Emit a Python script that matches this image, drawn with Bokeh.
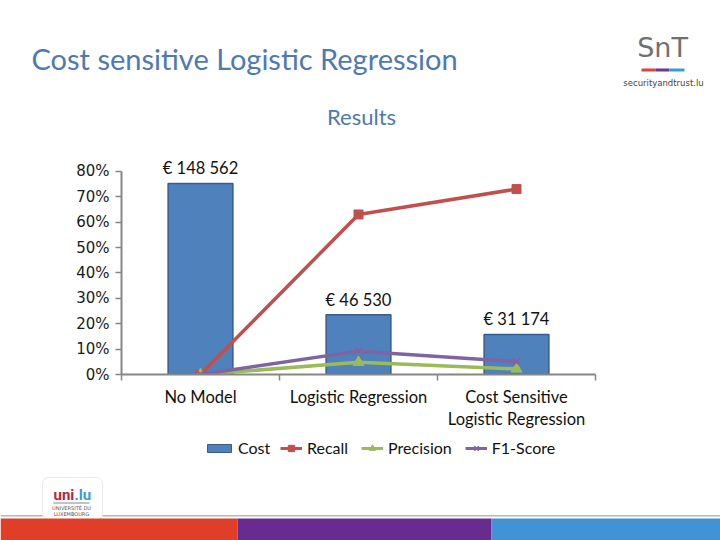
import math
from bokeh.plotting import figure
from bokeh.layouts import column
from bokeh.models import (Range1d, LinearAxis, FixedTicker, NumeralTickFormatter,
                          ColumnDataSource, LabelSet, BoxAnnotation, Legend, LegendItem)
from bokeh.core.properties import value
from bokeh.embed import file_html
from bokeh.resources import INLINE

# ---------------- data ----------------
categories = ["No Model", "Logistic Regression", "Cost Sensitive\nLogistic Regression"]
cost = [148562, 46530, 31174]
recall = [0.0, 0.63, 0.73]
precision = [0.0, 0.048, 0.022]
f1_score = [0.0, 0.092, 0.050]
y_ticks = [0.0, 0.1, 0.2, 0.3, 0.4, 0.5, 0.6, 0.7, 0.8]
slide_title = "Cost sensitive Logistic Regression"
chart_title = "Results"
series_names = ["Cost", "Recall", "Precision", "F1-Score"]

# ---------------- styles ----------------
CAL = "Lato"
BLUE_T = "#4f79b3"
C_BAR, C_BAR_LINE = "#4F81BD", "#385D8A"
C_REC, C_PRE, C_F1 = "#C0504D", "#9BBB59", "#8064A2"
AX = "#868686"
W = 720

# page y-ranges of the three stacked figures (page coords, top-down)
HEAD = (0, 150)
CHART = (150, 436)
FOOT = (436, 540)
FRAME_L, FRAME_R = 121, 595
FRAME_TOP, FRAME_BOT = 155, 374   # chart frame (page coords)
PX_PER_UNIT = 254.0                # pixels per 100 %
COST_AT_80 = 158000                # secondary (hidden) scale value at the 80 % line


def bare_fig(y0, y1):
    f = figure(width=W, height=y1 - y0, output_backend="svg", toolbar_location=None,
               x_range=Range1d(0, W), y_range=Range1d(y1, y0),
               x_axis_type=None, y_axis_type=None, min_border=0, frame_align=False)
    f.outline_line_color = None
    f.grid.visible = False
    return f


# ---------------- header ----------------
head = bare_fig(*HEAD)
head.text(x=[31], y=[58], text=[slide_title], text_font=value(CAL), text_font_size="29px",
          text_color=BLUE_T, text_baseline="middle")
head.text(x=[361], y=[115.5], text=[chart_title], text_font=value(CAL), text_font_size="22px",
          text_color=BLUE_T, text_baseline="middle", text_align="center")
# SnT logo
head.text(x=[662], y=[47], text=["SnT"], text_font=value("DejaVu Sans"),
          text_font_size="27px", text_color="#707070", text_baseline="middle",
          text_align="center")
head.quad(left=[641, 655, 669], right=[655, 669, 684], top=[68, 68, 68], bottom=[71, 71, 71],
          fill_color=["#D9473A", "#6A3593", "#3C9AD0"], line_color=None)
head.text(x=[663], y=[82], text=["securityandtrust.lu"], text_font=value("DejaVu Sans"),
          text_font_size="8.5px", text_color="#444444", text_baseline="middle",
          text_align="center")

# ---------------- chart ----------------
y_top = (FRAME_BOT - FRAME_TOP) / PX_PER_UNIT
p = figure(width=W, height=CHART[1] - CHART[0], output_backend="svg", toolbar_location=None,
           x_range=Range1d(0, len(categories)), y_range=Range1d(0, y_top),
           x_axis_type=None, y_axis_type=None, frame_align=False,
           min_border_left=FRAME_L, min_border_right=W - FRAME_R,
           min_border_top=FRAME_TOP - CHART[0], min_border_bottom=CHART[1] - FRAME_BOT)
p.extra_y_ranges = {"cost": Range1d(0, COST_AT_80 * y_top / 0.8)}
p.outline_line_color = None
p.grid.visible = False

xs = [i + 0.5 for i in range(len(categories))]

yaxis = LinearAxis(ticker=FixedTicker(ticks=y_ticks), formatter=NumeralTickFormatter(format="0%"),
                   bounds=(y_ticks[0], y_ticks[-1]),
                   axis_line_color=AX, axis_line_width=2, major_tick_line_color=AX,
                   major_tick_line_width=1.5, major_tick_out=6, major_tick_in=0,
                   minor_tick_line_color=None, major_label_text_font="DejaVu Sans",
                   major_label_text_font_size="15px", major_label_text_color="#1a1a1a",
                   major_label_standoff=6)
p.add_layout(yaxis, "left")

bounds = list(range(len(categories) + 1))
xaxis = LinearAxis(ticker=FixedTicker(ticks=bounds), axis_line_color=AX, axis_line_width=2,
                   major_tick_line_color=AX, major_tick_line_width=1.5, major_tick_out=6,
                   major_tick_in=0, minor_tick_line_color=None,
                   major_label_overrides={b: "" for b in bounds},
                   major_label_text_font_size="0px", major_label_standoff=0)
p.add_layout(xaxis, "below")

laxis = LinearAxis(ticker=FixedTicker(ticks=xs),
                   major_label_overrides={x: c for x, c in zip(xs, categories)},
                   axis_line_color=None, major_tick_line_color=None, minor_tick_line_color=None,
                   major_tick_out=0, major_tick_in=0,
                   major_label_text_font=CAL, major_label_text_font_size="16.5px",
                   major_label_text_color="#111111", major_label_text_line_height=1.1,
                   major_label_standoff=6)
p.add_layout(laxis, "below")

src = ColumnDataSource(dict(x=xs, cost=cost,
                            lab=["€ " + f"{v:,}".replace(",", " ") for v in cost]))
p.vbar(x="x", top="cost", width=0.41, source=src, y_range_name="cost",
       fill_color=C_BAR, line_color=C_BAR_LINE, line_width=1.5)
p.add_layout(LabelSet(x="x", y="cost", text="lab", source=src, y_range_name="cost",
                      text_align="center", text_baseline="alphabetic", y_offset=9,
                      text_font=value(CAL), text_font_size=value("16.5px"),
                      text_color="#111111"))

LW = 3.5
p.line(xs, recall, line_color=C_REC, line_width=LW)
p.scatter(xs, recall, marker="square", size=9, fill_color=C_REC, line_color=C_REC)
p.line(xs, precision, line_color=C_PRE, line_width=LW)
p.scatter(xs, precision, marker="triangle", size=11, fill_color=C_PRE, line_color=C_PRE)
p.line(xs, f1_score, line_color=C_F1, line_width=LW)
p.scatter(xs, f1_score, marker="x", size=10, line_color=C_F1, line_width=2)

# ---------------- footer ----------------
foot = bare_fig(*FOOT)

nan = [math.nan]
d_bar = foot.vbar(x=nan, top=nan, width=1, fill_color=C_BAR, line_color=C_BAR_LINE, line_width=1)
d_rl = foot.line(nan, nan, line_color=C_REC, line_width=3)
d_rm = foot.scatter(nan, nan, marker="square", size=8, fill_color=C_REC, line_color=C_REC)
d_pl = foot.line(nan, nan, line_color=C_PRE, line_width=3)
d_pm = foot.scatter(nan, nan, marker="triangle", size=8, fill_color=C_PRE, line_color=C_PRE)
d_fl = foot.line(nan, nan, line_color=C_F1, line_width=3)
d_fm = foot.scatter(nan, nan, marker="x", size=8, line_color=C_F1, line_width=1.5)

leg_common = dict(orientation="horizontal", padding=0, margin=0, border_line_color=None,
                  background_fill_alpha=0, label_text_font=CAL, label_text_font_size="16px",
                  label_text_color="#111111")
leg1 = Legend(items=[LegendItem(label=series_names[0], renderers=[d_bar])],
              location=(204, FOOT[1] - 457), glyph_width=30, glyph_height=10,
              label_height=10, label_standoff=4, **leg_common)
leg2 = Legend(items=[LegendItem(label=series_names[1], renderers=[d_rl, d_rm]),
                     LegendItem(label=series_names[2], renderers=[d_pl, d_pm]),
                     LegendItem(label=series_names[3], renderers=[d_fl, d_fm])],
              location=(280, FOOT[1] - 457), glyph_width=22, glyph_height=16,
              label_height=16, label_standoff=5, spacing=13, **leg_common)
foot.add_layout(leg1)
foot.add_layout(leg2)

# page furniture
foot.quad(left=[0, 102], right=[42, 720], top=[514.5, 514.5], bottom=[516, 516],
          fill_color="#b8b8b8", line_color=None)
foot.add_layout(BoxAnnotation(left=42, right=102, top=477, bottom=519, fill_color="white",
                              fill_alpha=1, line_color="#bbbbbb", line_width=1, border_radius=6,
                              level="underlay"))
foot.text(x=[53], y=[494], text=["uni"], text_font=value("Roboto"),
          text_font_style="bold", text_font_size="15px", text_color="#B8253A",
          text_align="left", text_baseline="middle")
foot.text(x=[74], y=[494], text=[".lu"], text_font=value("Roboto"),
          text_font_style="bold", text_font_size="15px", text_color="#3A9AD9",
          text_align="left", text_baseline="middle")
foot.quad(left=[53], right=[89], top=[502], bottom=[503], fill_color="#888888", line_color=None)
foot.text(x=[71, 71], y=[507, 513], text=["UNIVERSITÉ DU", "LUXEMBOURG"],
          text_font=value("DejaVu Sans"), text_font_size="5px", text_color="#555555",
          text_align="center", text_baseline="middle")
foot.quad(left=[0, 237, 491], right=[237, 491, 720], top=[518, 518, 518], bottom=[540, 540, 540],
          fill_color=["#E03E28", "#682C90", "#4292D6"], line_color=None)

layout = column(head, p, foot, spacing=0)
open("out.html", "w").write(file_html(layout, INLINE))
